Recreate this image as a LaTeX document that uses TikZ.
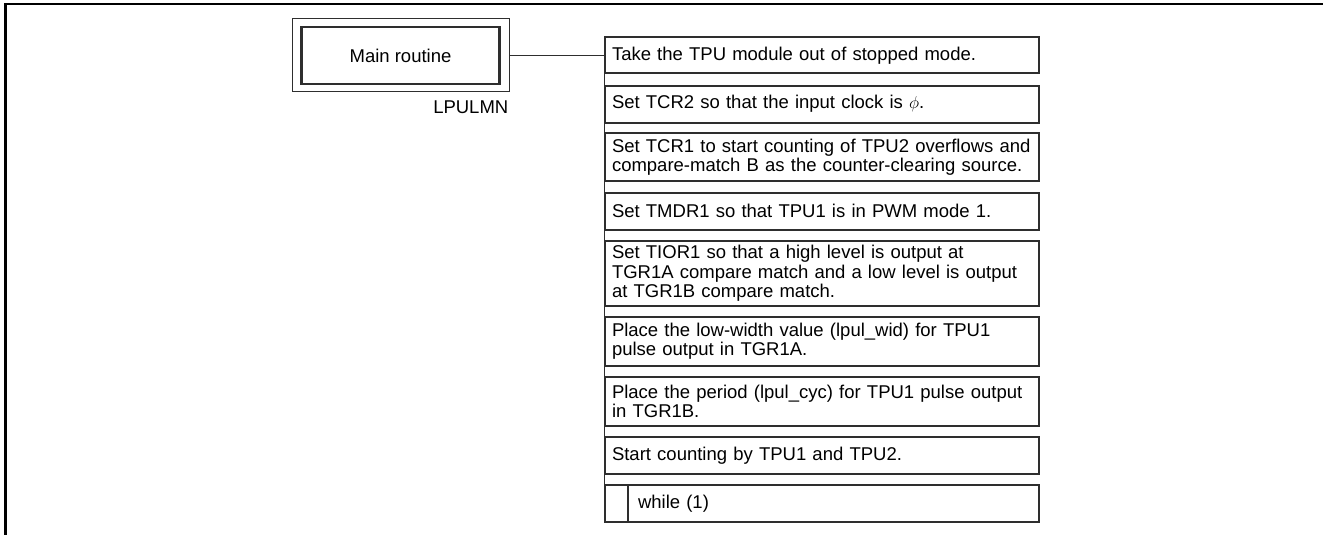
\documentclass[tikz,border=0pt]{standalone}
\usepackage{fontspec}
\setmainfont{Liberation Sans}
\usetikzlibrary{positioning}
\begin{document}
\begin{tikzpicture}[x=1pt,y=-1pt,
    stepbox/.style={draw=ldark,line width=2pt,anchor=north west,minimum width=434pt,
        text width=420pt,inner xsep=7pt,inner ysep=0pt,align=left,font=\fontsize{18.5}{19.5}\selectfont},
    thinline/.style={draw=ldark,line width=1pt}]
        %colores
        \colorlet{ldark}{black!82}
        \useasboundingbox (0,0) rectangle (1323,535);
        % Marco
        \draw[line width=2.5pt] (5.7,535) -- (5.7,4) -- (1323,4);

        % Rutina principal, doble caja
        \node[thinline,minimum width=217pt,minimum height=73pt] (outer) at (400.5,55.5) {};
        \node[draw=ldark,line width=2.2pt,minimum width=198pt,minimum height=57pt,
            font=\fontsize{18.5}{19.5}\selectfont] (main) at (outer.center) {Main routine};
        \node[below left=8pt and 1pt of outer.south east,inner sep=0pt,
            font=\fontsize{18.5}{19.5}\selectfont] (lbl) {LPULMN};

        % Pasos
        \foreach \y/\h/\txt [count=\i] in {
            36.5/36/{Take the TPU module out of stopped mode.},
            84.6/37/{Set TCR2 so that the input clock is $\phi$.},
            132.4/48/{Set TCR1 to start counting of TPU2 overflows and\\compare-match B as the counter-clearing source.},
            191.8/37/{Set TMDR1 so that TPU1 is in PWM mode 1.},
            239.9/65/{Set TIOR1 so that a high level is output at\\TGR1A compare match and a low level is output\\at TGR1B compare match.},
            315.7/49.5/{Place the low-width value (lpul\_wid) for TPU1\\pulse output in TGR1A.},
            376.1/49/{Place the period (lpul\_cyc) for TPU1 pulse output\\in TGR1B.},
            435.8/37/{Start counting by TPU1 and TPU2.}}
            \node[stepbox,minimum height=\h pt] (s\i) at (604,\y) {\txt};

        % Bucle while
        \node[stepbox,minimum height=37pt] (s9) at (604,484) {\hspace*{26pt}while (1)};
        \draw[draw=ldark,line width=2pt] ([xshift=24pt]s9.north west) -- ([xshift=24pt]s9.south west);

        % Conectores
        \draw[thinline] (outer.east) -- (outer.east -| s1.west);
        \draw[thinline] (s1.south west) -- (s9.north west);
    \end{tikzpicture}
\end{document}
